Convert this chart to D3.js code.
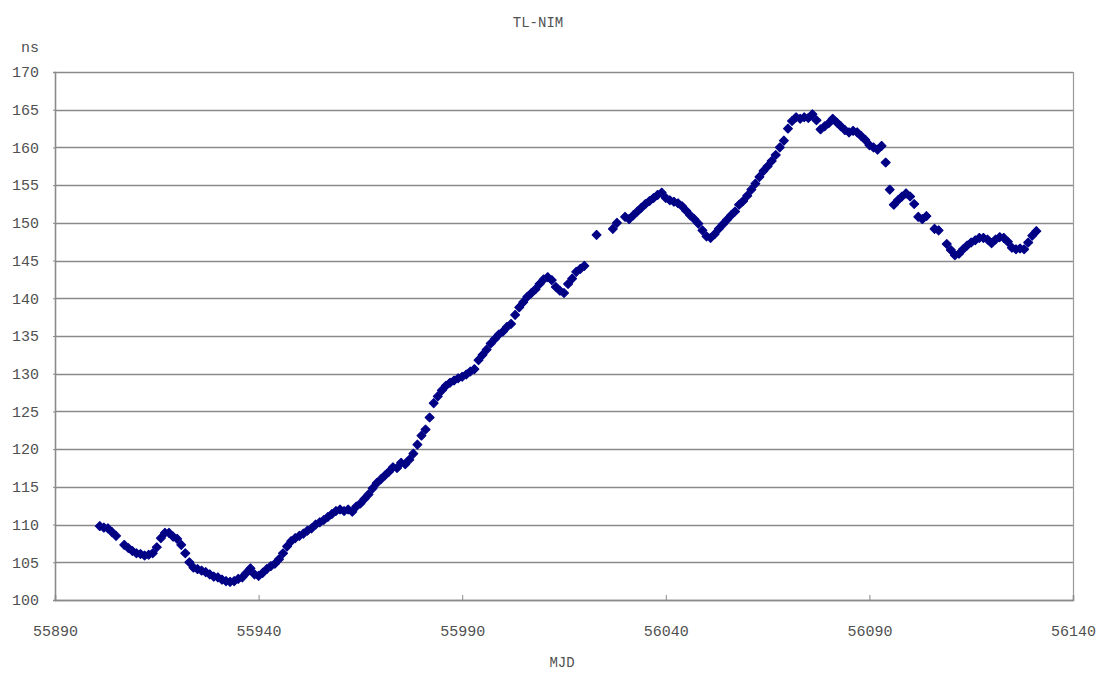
<!DOCTYPE html>
<html>
<head>
<meta charset="utf-8">
<script src="https://cdn.jsdelivr.net/npm/d3@7"></script>
<style>
  html, body { margin: 0; padding: 0; background: #fff; }
  svg text { font-family: "Liberation Mono", "DejaVu Sans Mono", monospace; fill: #505050; }
</style>
</head>
<body>
<svg id="chart" width="1102" height="673"></svg>
<script>
// Daily TL-NIM time offsets (ns) by Modified Julian Date
const mjd = [
  55901,55902,55903,55904,55905,55907,55908,55909,55910,55911,55912,55913,55914,55915,55916,55917,55918,55919,55920,
  55921,55922,55923,55924,55925,55926,55927,55928,55929,55930,55931,55932,55933,55934,55935,55936,55937,55938,55939,55940,
  55941,55942,55943,55944,55945,55946,55947,55948,55949,55950,55951,55952,55953,55954,55955,55956,55957,55958,55959,55960,
  55961,55962,55963,55964,55965,55966,55967,55968,55969,55970,55971,55972,55973,55974,55975,55976,55977,55978,55979,55980,
  55981,55982,55983,55984,55985,55986,55987,55988,55989,55990,55991,55992,55993,55994,55995,55996,55997,55998,55999,56000,
  56001,56002,56003,56004,56005,56006,56007,56008,56009,56010,56011,56012,56013,56014,56015,56016,56017,56018,56019,56020,
  56023,56027,56028,56030,56031,56032,56033,56034,56035,56036,56037,56038,56039,56040,
  56041,56042,56043,56044,56045,56046,56047,56048,56049,56050,56051,56052,56053,56054,56055,56056,56057,56058,56059,56060,
  56061,56062,56063,56064,56065,56066,56067,56068,56069,56070,56071,56072,56073,56074,56075,56076,56077,56078,56079,56080,
  56081,56082,56083,56084,56085,56086,56087,56088,56089,56090,56091,56092,56093,56094,56095,56096,56097,56098,56099,56100,
  56101,56102,56103,56104,56106,56107,56109,56110,56111,56112,56113,56114,56115,56116,56117,56118,56119,56120,
  56121,56122,56123,56124,56125,56126,56127,56128,56129,56130,56131
];
const offsetNs = [
  109.8,109.6,109.5,109.0,108.5,107.3,106.9,106.5,106.2,106.1,105.9,106.0,106.2,107.0,108.2,108.9,108.9,108.4,108.1,
  107.3,106.2,105.0,104.3,104.1,103.9,103.7,103.4,103.1,103.0,102.7,102.5,102.4,102.5,102.8,103.0,103.6,104.2,103.4,103.2,
  103.6,104.1,104.5,104.8,105.4,106.2,107.1,107.8,108.2,108.5,108.8,109.2,109.5,110.0,110.3,110.6,111.0,111.4,111.8,112.0,
  111.8,112.0,111.7,112.4,112.8,113.4,114.0,114.8,115.5,116.0,116.5,117.0,117.6,117.5,118.2,118.0,118.6,119.4,120.6,121.8,
  122.6,124.2,126.1,127.0,127.8,128.4,128.8,129.1,129.4,129.6,129.9,130.3,130.6,131.8,132.5,133.2,134.0,134.6,135.2,135.6,
  136.2,136.6,137.8,138.8,139.5,140.2,140.7,141.2,141.9,142.5,142.8,142.4,141.5,141.0,140.7,141.9,142.6,143.5,143.9,144.3,
  148.4,149.2,150.0,150.8,150.5,151.0,151.5,152.0,152.5,152.9,153.3,153.7,154.0,153.3,
  153.0,152.8,152.6,152.2,151.6,151.0,150.5,149.9,149.0,148.2,148.0,148.5,149.2,149.8,150.4,151.0,151.5,152.4,152.9,153.6,
  154.4,155.2,156.1,156.9,157.5,158.2,159.0,160.0,160.9,162.5,163.5,164.0,163.8,164.0,163.9,164.4,163.6,162.4,162.8,163.2,
  163.8,163.3,162.8,162.3,162.0,162.2,162.0,161.5,161.0,160.3,160.0,159.7,160.2,158.0,154.4,152.4,153.0,153.5,153.9,153.5,
  152.5,150.8,150.5,150.9,149.2,149.0,147.2,146.4,145.7,145.9,146.5,147.0,147.4,147.7,148.0,148.0,147.8,147.3,
  147.8,148.1,148.0,147.5,146.7,146.5,146.6,146.5,147.4,148.3,148.9
];
const xTicks = [55890, 55940, 55990, 56040, 56090, 56140];
const yTicks = [100, 105, 110, 115, 120, 125, 130, 135, 140, 145, 150, 155, 160, 165, 170];

const margin = { left: 55, right: 29, top: 72, bottom: 73 };
const W = 1102, H = 673;
const svg = d3.select("#chart");

const x = d3.scaleLinear().domain([55890, 56140]).range([margin.left, W - margin.right]);
const y = d3.scaleLinear().domain([100, 170]).range([H - margin.bottom, margin.top]);

// horizontal gridlines
svg.append("g")
  .selectAll("line").data(yTicks).join("line")
  .attr("x1", x(55890)).attr("x2", x(56140))
  .attr("y1", d => Math.round(y(d)) + 0.5).attr("y2", d => Math.round(y(d)) + 0.5)
  .attr("stroke", "#8a8a8a").attr("stroke-width", 1.6);

// right border of the plot area
svg.append("line")
  .attr("x1", Math.round(x(56140)) + 0.5).attr("x2", Math.round(x(56140)) + 0.5)
  .attr("y1", y(170)).attr("y2", y(100))
  .attr("stroke", "#9a9a9a").attr("stroke-width", 1.2);

// y axis
const yAxis = d3.axisLeft(y).tickValues(yTicks).tickSize(2).tickPadding(14).tickFormat(d3.format("d"));
const gy = svg.append("g").attr("transform", `translate(${margin.left},0)`).call(yAxis);
gy.select(".domain").attr("stroke", "#8a8a8a").attr("stroke-width", 1.6);
gy.selectAll(".tick line").attr("stroke", "#8a8a8a");
gy.selectAll("text").style("font-size", "15px").attr("fill", "#505050");

// x axis, ticks pointing into the plot
const xAxis = d3.axisBottom(x).tickValues(xTicks).tickSize(-5).tickPadding(25).tickFormat(d3.format("d"));
const gx = svg.append("g").attr("transform", `translate(0,${H - margin.bottom})`).call(xAxis);
gx.select(".domain").attr("stroke", "#8a8a8a").attr("stroke-width", 1.6);
gx.selectAll(".tick line").attr("stroke", "#8a8a8a");
gx.selectAll("text").style("font-size", "15px").attr("fill", "#505050");

// data markers: diamonds with a soft navy edge
const r = 4.4;
const diamond = `M0,${-r}L${r},0L0,${r}L${-r},0Z`;
svg.append("g")
  .selectAll("path").data(mjd.map((m, i) => [m, offsetNs[i]])).join("path")
  .attr("d", diamond)
  .attr("transform", d => `translate(${x(d[0])},${y(d[1])})`)
  .attr("fill", "#000080")
  .attr("stroke", "#00008a").attr("stroke-width", 1.2).attr("stroke-linejoin", "round");

// titles
svg.append("text").attr("x", 538).attr("y", 27).attr("text-anchor", "middle")
  .style("font-size", "14px").text("TL-NIM");
svg.append("text").attr("x", 30).attr("y", 52).attr("text-anchor", "middle")
  .style("font-size", "15px").text("ns");
svg.append("text").attr("x", 562).attr("y", 667).attr("text-anchor", "middle")
  .style("font-size", "14px").text("MJD");
</script>
</body>
</html>
